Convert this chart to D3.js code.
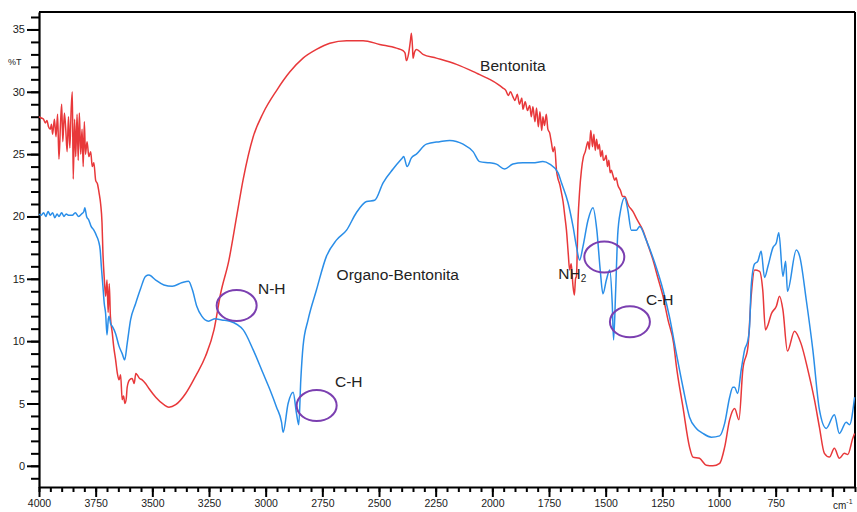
<!DOCTYPE html>
<html>
<head>
<meta charset="utf-8">
<script src="https://cdn.jsdelivr.net/npm/d3@7"></script>
<style>
  body { margin: 0; background: #fff; }
  svg { display: block; font-family: "Liberation Sans", Arial, sans-serif; }
  .tick text { font-size: 10.5px; fill: #1a1a1a; }
  .note { font-size: 15.5px; fill: #222; }
</style>
</head>
<body>
<div id="chart"></div>
<script>
// FTIR spectra: %T vs wavenumber (cm-1). Pairs are [wavenumber, %T].
const bentonita = [
  [4000,28.0],[3990,27.9],[3980,27.8],[3972,27.5],[3965,27.7],[3958,27.2],[3950,27.0],[3945,27.4],
  [3940,26.6],[3932,27.8],[3925,26.4],[3918,28.2],[3912,24.6],[3905,27.5],[3900,29.0],[3895,26.0],
  [3888,28.3],[3882,27.0],[3876,25.2],[3870,28.0],[3864,25.5],[3858,28.6],[3853,30.0],[3849,23.0],
  [3843,27.8],[3838,24.8],[3832,28.2],[3827,24.5],[3822,28.3],[3816,25.0],[3810,27.0],[3805,24.0],
  [3800,27.6],[3795,25.0],[3788,26.0],[3780,24.8],[3772,25.2],[3765,24.0],[3758,24.3],[3750,22.9],
  [3742,22.6],[3735,21.9],[3728,21.0],[3722,19.5],[3718,17.1],[3712,15.0],[3706,13.6],[3700,14.9],
  [3695,12.3],[3690,14.6],[3685,12.0],[3677,10.7],[3670,9.5],[3662,8.5],[3655,7.5],[3647,6.9],
  [3640,7.3],[3633,5.3],[3627,5.6],[3621,5.0],[3615,5.4],[3611,6.3],[3600,6.9],[3589,7.0],
  [3580,6.6],[3573,7.4],[3567,7.3],[3556,7.0],[3545,6.9],[3530,6.6],[3515,6.2],[3485,5.5],
  [3449,4.9],[3427,4.7],[3397,4.9],[3353,5.8],[3309,7.2],[3265,8.8],[3228,10.9],[3199,13.8],
  [3162,16.5],[3128,20.0],[3099,23.0],[3055,26.4],[3011,28.3],[2952,30.1],[2893,31.6],[2835,32.7],
  [2776,33.4],[2717,33.9],[2643,34.1],[2570,34.1],[2497,33.8],[2423,33.5],[2394,33.3],[2385,33.1],
  [2379,32.5],[2370,33.0],[2362,34.0],[2357,34.7],[2352,33.5],[2350,32.7],[2343,33.2],[2335,33.4],
  [2306,33.0],[2247,32.7],[2158,32.2],[2070,31.5],[2012,31.0],[1975,30.6],[1953,30.3],[1940,30.1],
  [1930,29.7],[1920,30.0],[1909,29.6],[1900,29.3],[1890,29.8],[1880,29.0],[1870,29.5],[1865,28.6],
  [1855,29.2],[1845,28.5],[1835,28.9],[1828,28.0],[1821,28.8],[1812,27.6],[1805,28.7],[1797,27.2],
  [1790,28.4],[1782,26.9],[1777,28.0],[1770,27.3],[1762,28.2],[1755,27.0],[1747,26.7],[1740,26.0],
  [1732,25.2],[1725,25.6],[1717,23.7],[1710,23.0],[1703,22.6],[1695,21.9],[1688,21.2],[1680,20.0],
  [1673,18.9],[1665,17.0],[1659,15.7],[1652,16.2],[1644,14.4],[1638,13.7],[1633,15.0],[1629,15.2],
  [1622,19.7],[1615,22.0],[1607,23.7],[1598,24.8],[1590,25.2],[1585,25.6],[1578,26.0],[1572,25.4],
  [1566,26.9],[1563,26.5],[1558,25.6],[1552,26.6],[1546,25.3],[1540,26.2],[1534,25.4],[1528,25.8],
  [1522,24.8],[1515,25.3],[1510,24.5],[1504,24.6],[1498,24.9],[1492,24.0],[1486,24.5],[1480,23.5],
  [1475,23.7],[1468,23.3],[1460,22.9],[1454,23.1],[1446,22.5],[1435,22.1],[1425,21.6],[1416,21.6],
  [1400,20.9],[1380,20.4],[1360,19.7],[1336,18.9],[1315,17.8],[1291,16.5],[1270,15.1],[1247,13.6],
  [1225,11.7],[1200,9.8],[1188,8.0],[1159,4.7],[1130,1.5],[1115,0.7],[1086,0.6],[1056,0.05],
  [1027,0.0],[997,0.2],[975,1.5],[953,3.7],[931,4.6],[912,3.7],[895,7.7],[872,9.6],
  [858,13.6],[843,15.7],[821,15.6],[807,14.1],[795,10.9],[784,11.3],[769,12.2],[747,12.8],
  [733,13.6],[718,12.5],[698,9.2],[667,10.8],[638,9.8],[608,7.7],[579,5.3],[557,3.1],
  [535,1.0],[513,0.7],[491,1.4],[469,0.6],[447,1.0],[432,0.9],[410,2.2],[402,2.6]
];

const organoBentonita = [
  [4000,20.2],[3990,20.1],[3980,20.3],[3970,20.0],[3960,20.4],[3950,20.1],[3940,20.3],[3930,19.9],
  [3920,20.2],[3912,20.0],[3900,20.3],[3890,20.0],[3880,20.2],[3870,20.1],[3853,20.1],[3840,20.3],
  [3825,20.0],[3812,20.2],[3802,20.4],[3798,20.7],[3790,20.0],[3780,19.7],[3770,19.2],[3758,18.9],
  [3745,18.4],[3737,18.0],[3730,17.3],[3725,16.0],[3718,14.4],[3712,13.0],[3706,12.2],[3700,10.5],
  [3694,11.8],[3691,12.0],[3684,11.4],[3677,11.2],[3662,10.6],[3647,9.6],[3633,9.0],[3622,8.5],
  [3611,9.8],[3596,11.7],[3574,13.0],[3552,14.2],[3530,15.2],[3515,15.3],[3485,14.9],[3449,14.5],
  [3412,14.4],[3368,14.7],[3340,14.8],[3323,14.1],[3304,12.8],[3282,12.0],[3252,11.6],[3223,11.8],
  [3194,11.7],[3158,11.6],[3099,10.9],[3055,9.3],[3011,7.4],[2981,6.1],[2952,4.7],[2930,3.5],
  [2923,2.7],[2901,5.0],[2879,5.9],[2864,4.2],[2854,3.3],[2845,6.9],[2835,9.6],[2813,11.7],
  [2776,14.1],[2732,16.8],[2688,18.1],[2643,18.9],[2600,20.3],[2555,21.2],[2519,21.3],[2482,22.7],
  [2438,23.8],[2401,24.6],[2391,24.8],[2376,24.0],[2357,24.7],[2335,25.0],[2291,25.8],[2232,26.0],
  [2188,26.1],[2129,25.8],[2085,25.2],[2056,24.4],[2012,24.3],[1982,24.2],[1946,23.8],[1909,24.2],
  [1865,24.3],[1821,24.3],[1777,24.4],[1747,24.2],[1710,23.5],[1695,22.7],[1666,21.1],[1644,19.2],
  [1629,17.6],[1615,16.5],[1600,17.6],[1578,19.7],[1556,20.7],[1539,18.9],[1524,15.7],[1512,13.8],
  [1497,14.9],[1482,15.7],[1471,13.0],[1465,10.1],[1456,14.0],[1447,18.5],[1434,20.5],[1416,21.5],
  [1402,20.5],[1387,18.9],[1365,18.9],[1350,19.2],[1321,18.1],[1284,16.3],[1247,14.1],[1218,11.9],
  [1188,9.0],[1159,6.3],[1130,3.9],[1100,3.0],[1071,2.6],[1034,2.3],[997,2.4],[975,3.4],
  [953,5.5],[939,6.3],[931,6.3],[918,5.8],[902,7.7],[887,9.3],[872,10.1],[865,11.2],
  [858,14.4],[843,16.2],[829,16.4],[814,17.2],[799,15.1],[784,16.0],[762,17.5],[747,17.9],
  [736,18.7],[718,15.2],[706,16.4],[698,14.0],[659,17.3],[644,16.8],[615,13.3],[586,9.3],
  [557,4.5],[527,3.0],[491,4.1],[469,2.6],[439,3.5],[424,3.3],[402,5.5]
];

const xMajor = [4000,3750,3500,3250,3000,2750,2500,2250,2000,1750,1500,1250,1000,750,500];
const xLabels = [4000,3750,3500,3250,3000,2750,2500,2250,2000,1750,1500,1250,1000,750];
const yMajor = [0,5,10,15,20,25,30,35];

// label text, wavenumber, %T (baseline start)
const notes = [
  ["Bentonita", 2054, 31.7],
  ["Organo-Bentonita", 2687, 14.9],
  ["N-H", 3034, 13.75],
  ["C-H", 2694, 6.35],
  ["C-H", 1322, 12.9]
];
// highlighted bands: wavenumber, %T centre
const rings = [[3128, 12.85], [2775, 4.83], [1506, 16.74], [1393, 11.55]];

const W = 857, H = 512;
const x = d3.scaleLinear().domain([4000, 400]).range([39, 855]);
const y = d3.scaleLinear().domain([-1.7, 36.4]).range([487, 12]);

const svg = d3.select("#chart").append("svg").attr("width", W).attr("height", H);

// frame (top + right)
svg.append("line").attr("x1", x(4000)).attr("x2", x(400)).attr("y1", y(36.4)).attr("y2", y(36.4))
  .attr("stroke", "#000").attr("stroke-width", 2);
svg.append("line").attr("x1", x(400)).attr("x2", x(400)).attr("y1", y(36.4)).attr("y2", y(-1.7))
  .attr("stroke", "#000").attr("stroke-width", 2);

// axes: minor ticks first, then major with labels
const yMinor = d3.range(-1, 37);
const xMinor = d3.range(400, 4001, 50);
svg.append("g").attr("transform", `translate(${x(4000)},0)`)
  .call(d3.axisLeft(y).tickValues(yMinor).tickSize(8).tickSizeOuter(0).tickFormat(""))
  .call(g => g.selectAll("line").attr("stroke-width", 2));
svg.append("g").attr("transform", `translate(${x(4000)},0)`)
  .call(d3.axisLeft(y).tickValues(yMajor).tickSize(12).tickSizeOuter(0).tickPadding(2))
  .call(g => g.select(".domain").attr("stroke-width", 2.2))
  .call(g => g.selectAll("line").attr("stroke-width", 2))
  .call(g => g.selectAll("text").style("font-size", "11px"));

svg.append("g").attr("transform", `translate(0,${y(-1.7)})`)
  .call(d3.axisBottom(x).tickValues(xMinor).tickSize(5).tickSizeOuter(0).tickFormat(""))
  .call(g => g.selectAll("line").attr("stroke-width", 2));
svg.append("g").attr("transform", `translate(0,${y(-1.7)})`)
  .call(d3.axisBottom(x).tickValues(xMajor).tickSize(10).tickSizeOuter(0).tickPadding(3)
    .tickFormat(d => xLabels.includes(d) ? d : ""))
  .call(g => g.select(".domain").attr("stroke-width", 2.2))
  .call(g => g.selectAll("line").attr("stroke-width", 2));

svg.append("text").attr("x", 8).attr("y", 64.5).attr("font-size", 9).attr("fill", "#222").text("%T");
const cm = svg.append("text").attr("x", 833).attr("y", 509).attr("font-size", 10).attr("fill", "#222");
cm.append("tspan").text("cm");
cm.append("tspan").attr("dy", -5).attr("font-size", 7).text("-1");

// spectra
const line = d3.line().x(d => x(d[0])).y(d => y(d[1])).curve(d3.curveMonotoneX);
svg.append("path").datum(bentonita).attr("d", line)
  .attr("fill", "none").attr("stroke", "#e8383a").attr("stroke-width", 1.5);
svg.append("path").datum(organoBentonita).attr("d", line)
  .attr("fill", "none").attr("stroke", "#2a8ee8").attr("stroke-width", 1.5);

// annotations
svg.selectAll(".ring").data(rings).join("ellipse").attr("class", "ring")
  .attr("cx", d => x(d[0])).attr("cy", d => y(d[1])).attr("rx", 20).attr("ry", 15.5)
  .attr("fill", "none").attr("stroke", "#7b3fb0").attr("stroke-width", 2);

svg.selectAll(".note").data(notes).join("text").attr("class", "note")
  .attr("x", d => x(d[1])).attr("y", d => y(d[2])).text(d => d[0]);

const nh2 = svg.append("text").attr("class", "note").attr("x", x(1709)).attr("y", y(14.95));
nh2.append("tspan").text("NH");
nh2.append("tspan").attr("dy", 3).attr("font-size", 10).text("2");
</script>
</body>
</html>
